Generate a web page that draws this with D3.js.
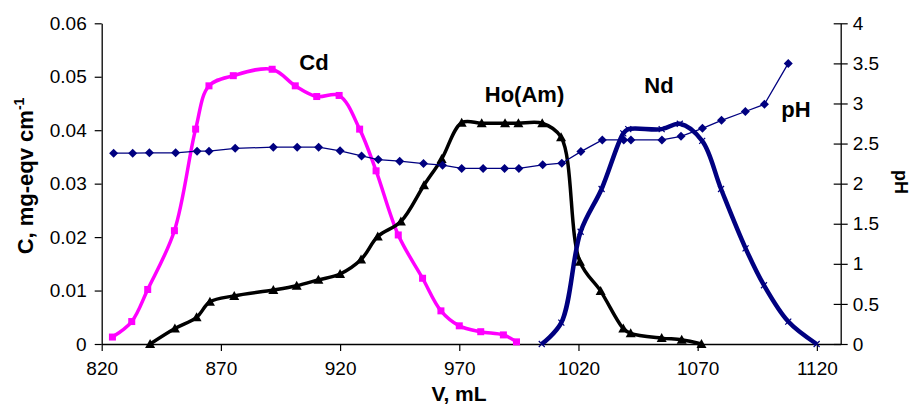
<!DOCTYPE html>
<html>
<head>
<meta charset="utf-8">
<script src="https://cdn.jsdelivr.net/npm/d3@7"></script>
<style>
  body { margin: 0; background: #fff; }
  text { font-family: "Liberation Sans", Arial, sans-serif; }
</style>
</head>
<body>
<svg id="chart" width="914" height="407"></svg>
<script>
'use strict'

// data
var cdV = [824.5, 832.6, 839.3, 850.5, 859.4, 865, 875.2, 891.5, 901.2, 910.2, 919.6, 928.2, 935.1, 944.4, 954.6, 962.3, 970, 979, 988.5, 994];
var cdC = [0.0013, 0.0042, 0.0102, 0.0212, 0.0402, 0.0483, 0.0502, 0.0514, 0.0483, 0.0463, 0.0465, 0.0402, 0.0324, 0.0204, 0.0123, 0.0062, 0.0034, 0.0023, 0.0017, 0.0004];

var hoV = [840.3, 850.7, 859.8, 865.4, 875.6, 892, 901.8, 910.9, 920, 928.8, 935.8, 945.5, 955.2, 962.6, 971, 979.4, 989.2, 994.8, 1004.8, 1012.7, 1020.6, 1029.3, 1038.8, 1041.9, 1054.9, 1063.3, 1071.6];
var hoC = [0, 0.0029, 0.005, 0.0079, 0.009, 0.0101, 0.0109, 0.012, 0.0131, 0.0158, 0.0201, 0.0229, 0.0297, 0.0346, 0.0414, 0.0413, 0.0413, 0.0413, 0.0413, 0.0387, 0.0154, 0.0099, 0.0029, 0.002, 0.0011, 0.0008, 0];

var ndV = [1004.6, 1012.8, 1020.9, 1029.7, 1038.8, 1040.9, 1054.9, 1062.5, 1071.9, 1079.8, 1090.1, 1097.8, 1108, 1119.9];
var ndC = [0, 0.004, 0.021, 0.029, 0.0394, 0.0402, 0.0402, 0.0412, 0.038, 0.029, 0.0179, 0.011, 0.0042, 0];

var phV = [825, 833, 840, 851, 860, 865, 876, 892, 902, 911, 920, 929, 936, 945, 955, 963, 971, 980, 989, 995, 1005, 1013, 1021, 1030, 1039, 1042, 1055, 1063, 1072, 1080, 1090, 1098, 1108];
var phVal = [2.38, 2.38, 2.385, 2.385, 2.405, 2.405, 2.44, 2.455, 2.455, 2.455, 2.41, 2.345, 2.30, 2.28, 2.25, 2.23, 2.19, 2.19, 2.19, 2.19, 2.235, 2.255, 2.40, 2.545, 2.545, 2.545, 2.545, 2.59, 2.69, 2.79, 2.90, 2.99, 3.50];

var xTicks = [820, 870, 920, 970, 1020, 1070, 1120];
var cTicks = [0, 0.01, 0.02, 0.03, 0.04, 0.05, 0.06];
var phTicks = [0, 0.5, 1, 1.5, 2, 2.5, 3, 3.5, 4];

function zip(xs, ys){ return xs.map(function(v, i){ return [v, ys[i]]; }); }

var svg = d3.select("#chart");

var x = d3.scaleLinear().domain([820, 1130]).range([101.7, 840.7]);
var yC = d3.scaleLinear().domain([0, 0.06]).range([344, 23.3]);
var yPh = d3.scaleLinear().domain([0, 4]).range([344, 23.3]);

// axes
var xAxis = svg.append("g").attr("transform", "translate(0,344)")
    .call(d3.axisBottom(x).tickValues(xTicks).tickSize(7).tickSizeOuter(0).tickPadding(11).tickFormat(d3.format("d")));
var leftAxis = svg.append("g").attr("transform", "translate(101.7,0)")
    .call(d3.axisLeft(yC).tickValues(cTicks).tickSize(7).tickSizeOuter(0).tickPadding(8)
        .tickFormat(function(d){ return d === 0 ? "0" : d3.format(".2f")(d); }));
var rightAxis = svg.append("g").attr("transform", "translate(840.7,0)")
    .call(d3.axisRight(yPh).tickValues(phTicks).tickSize(7).tickSizeOuter(0).tickPadding(5)
        .tickFormat(function(d){ return String(d); }));
rightAxis.selectAll(".tick line").attr("x1", -7); // ticks cross the right axis

[xAxis, leftAxis, rightAxis].forEach(function(a){
    a.selectAll("path.domain").attr("stroke", "#000").attr("stroke-width", 1.3);
    a.selectAll(".tick line").attr("stroke", "#000").attr("stroke-width", 1.2);
    a.selectAll("text").attr("fill", "#000").style("font-size", "19px")
        .style("font-family", "'Liberation Sans', Arial, sans-serif");
});

// smoothed lines like the spreadsheet
var smooth = d3.line().x(function(d){ return x(d[0]); }).curve(d3.curveCatmullRom.alpha(0.5));

var cdData = zip(cdV, cdC), hoData = zip(hoV, hoC), ndData = zip(ndV, ndC), phData = zip(phV, phVal);

svg.append("path").datum(cdData).attr("fill", "none").attr("stroke", "#ff00ff").attr("stroke-width", 3.5)
    .attr("d", smooth.y(function(d){ return yC(d[1]); }));
svg.append("path").datum(hoData).attr("fill", "none").attr("stroke", "#000").attr("stroke-width", 3.5)
    .attr("d", smooth.y(function(d){ return yC(d[1]); }));
svg.append("path").datum(ndData).attr("fill", "none").attr("stroke", "#000080").attr("stroke-width", 4.5)
    .attr("d", smooth.y(function(d){ return yC(d[1]); }));
svg.append("path").datum(phData).attr("fill", "none").attr("stroke", "#000080").attr("stroke-width", 1.3)
    .attr("d", d3.line().x(function(d){ return x(d[0]); }).y(function(d){ return yPh(d[1]); }));

// markers
svg.append("g").selectAll("rect").data(cdData).enter().append("rect")
    .attr("x", function(d){ return x(d[0]) - 3.5; }).attr("y", function(d){ return yC(d[1]) - 3.5; })
    .attr("width", 7).attr("height", 7).attr("fill", "#ff00ff");

svg.append("g").selectAll("path").data(hoData).enter().append("path")
    .attr("transform", function(d){ return "translate(" + x(d[0]) + "," + yC(d[1]) + ")"; })
    .attr("d", "M0,-5L5,4L-5,4Z").attr("fill", "#000");

svg.append("g").selectAll("path").data(ndData).enter().append("path")
    .attr("transform", function(d){ return "translate(" + x(d[0]) + "," + yC(d[1]) + ")"; })
    .attr("d", "M-3,-3L3,3M-3,3L3,-3").attr("stroke", "#000080").attr("stroke-width", 1.2);

svg.append("g").selectAll("path").data(phData).enter().append("path")
    .attr("transform", function(d){ return "translate(" + x(d[0]) + "," + yPh(d[1]) + ")"; })
    .attr("d", "M0,-4.5L4.5,0L0,4.5L-4.5,0Z").attr("fill", "#000080");

// series labels
var labels = [
    {t: "Cd", x: 314, y: 69.5},
    {t: "Ho(Am)", x: 524.5, y: 101.7},
    {t: "Nd", x: 659, y: 92.7},
    {t: "pH", x: 796, y: 116.7}
];
svg.append("g").selectAll("text").data(labels).enter().append("text")
    .attr("x", function(d){ return d.x; }).attr("y", function(d){ return d.y; })
    .attr("text-anchor", "middle").style("font-size", "22px").style("font-weight", "bold")
    .text(function(d){ return d.t; });

// axis titles
svg.append("text").attr("x", 459).attr("y", 401).attr("text-anchor", "middle")
    .style("font-size", "21px").style("font-weight", "bold").text("V, mL");

var lt = svg.append("text").attr("transform", "translate(33,176) rotate(-90)").attr("text-anchor", "middle")
    .style("font-size", "22px").style("font-weight", "bold");
lt.append("tspan").text("C, mg-eqv cm");
lt.append("tspan").attr("dy", -9).style("font-size", "14px").text("-1");

svg.append("text").attr("transform", "translate(894.5,182) rotate(90)").attr("text-anchor", "middle")
    .style("font-size", "18px").style("font-weight", "bold").text("pH");
</script>
</body>
</html>
